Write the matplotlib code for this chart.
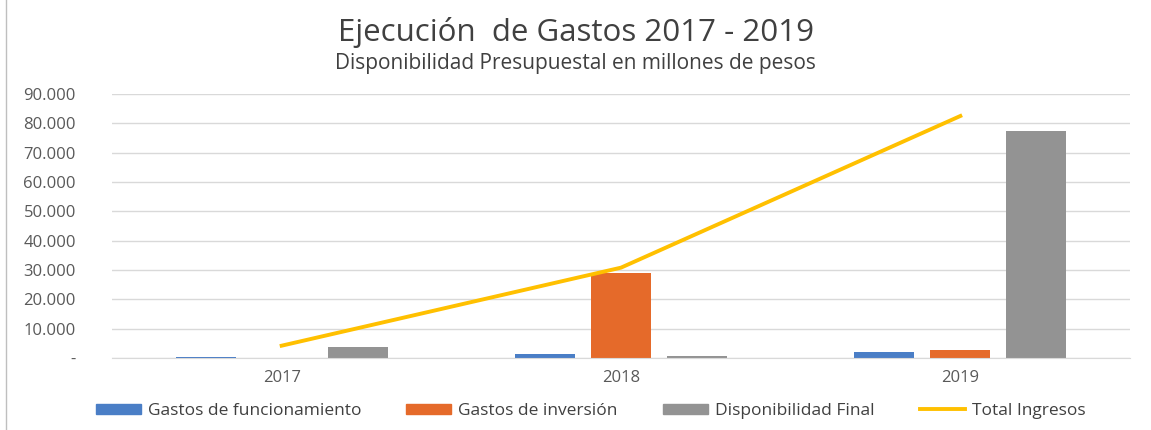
import matplotlib
matplotlib.use("Agg")
import matplotlib.pyplot as plt
import numpy as np
from matplotlib.ticker import FuncFormatter
from matplotlib.patches import Patch
from matplotlib.lines import Line2D

# ── Data ──────────────────────────────────────────────────────────────────────
years = ["2017", "2018", "2019"]
gastos_funcionamiento = [300, 1400, 2100]
gastos_inversion = [0, 29000, 2600]
disponibilidad_final = [3800, 600, 77500]
total_ingresos = [4200, 30800, 82500]

COLORS = {
    "func": "#4A7EC6",
    "inv": "#E56A2A",
    "disp": "#939393",
    "total": "#FFC000",
}
TEXT = "#404040"

plt.rcParams["font.family"] = ["Open Sans", "DejaVu Sans"]

fig = plt.figure(figsize=(11.51, 4.30), dpi=100)
ax = fig.add_axes([112 / 1151, 1 - 358 / 430, (1130 - 112) / 1151, (358 - 94) / 430])

x = np.arange(len(years))
w = 0.177
step = 0.224
ax.bar(x - step, gastos_funcionamiento, w, color=COLORS["func"], zorder=2)
ax.bar(x, gastos_inversion, w, color=COLORS["inv"], zorder=2)
ax.bar(x + step, disponibilidad_final, w, color=COLORS["disp"], zorder=2)
ax.plot(x, total_ingresos, color=COLORS["total"], linewidth=2.8, zorder=3)

ax.set_xlim(-0.5, 2.5)
ax.set_ylim(0, 90000)
ax.set_yticks(np.arange(0, 90001, 10000))
ax.yaxis.set_major_formatter(FuncFormatter(
    lambda v, _: "-" if v == 0 else f"{int(v):,}".replace(",", ".")))
ax.set_xticks(x)
ax.set_xticklabels(years)
ax.tick_params(axis="both", length=0, labelsize=12, colors="#595959")
ax.tick_params(axis="y", pad=26)
ax.tick_params(axis="x", pad=9)
ax.grid(True, axis="y", color="#D9D9D9", linewidth=1, zorder=0)
for s in ("top", "right", "left"):
    ax.spines[s].set_visible(False)
ax.spines["bottom"].set_color("#D9D9D9")

fig.text(0.5, 1 - 33 / 430, "Ejecución  de Gastos 2017 - 2019", ha="center", va="center",
         fontsize=22.5, color=TEXT)
fig.text(0.5, 1 - 64 / 430, "Disponibilidad Presupuestal en millones de pesos", ha="center",
         va="center", fontsize=15, color=TEXT)

handles = [
    Patch(color=COLORS["func"]),
    Patch(color=COLORS["inv"]),
    Patch(color=COLORS["disp"]),
    Line2D([], [], color=COLORS["total"], linewidth=2.8),
]
labels = ["Gastos de funcionamiento", "Gastos de inversión", "Disponibilidad Final", "Total Ingresos"]
fig.legend(handles, labels, loc="center", bbox_to_anchor=(0.513, 1 - 411 / 430), ncol=4,
           frameon=False, fontsize=12.5, handlelength=2.6, handleheight=0.55,
           handletextpad=0.4, columnspacing=2.6, labelcolor=TEXT)

# thin border on the left like the original crop
fig.add_artist(Line2D([6 / 1151, 6 / 1151], [0, 1], color="#BFBFBF", linewidth=1))

fig.savefig("out.png", dpi=100)
